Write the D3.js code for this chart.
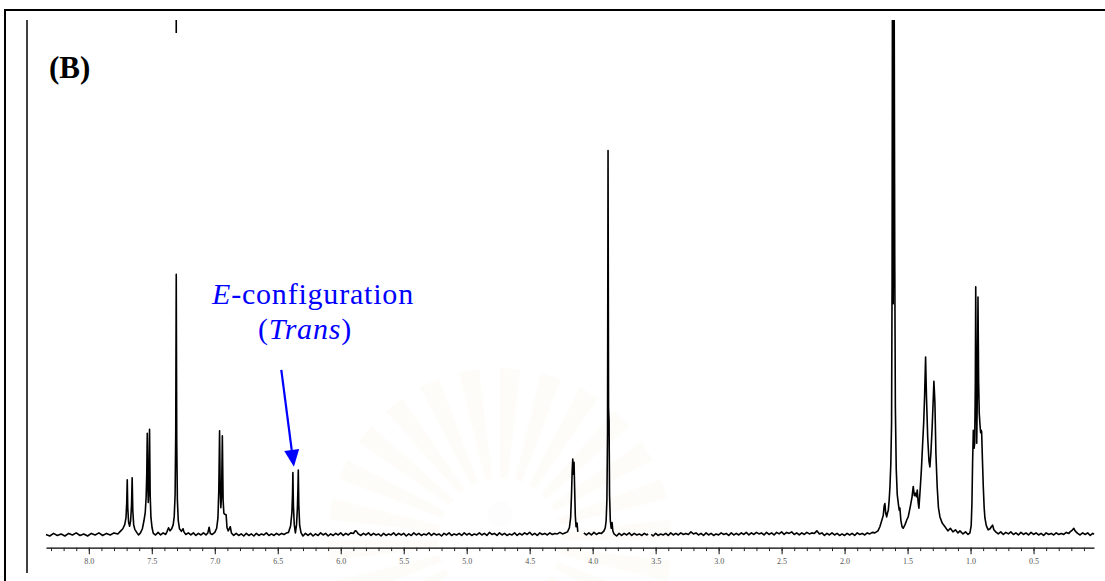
<!DOCTYPE html>
<html>
<head>
<meta charset="utf-8">
<script src="https://cdn.jsdelivr.net/npm/d3@7"></script>
<style>
  html, body { margin: 0; padding: 0; background: #fff; }
  svg { display: block; }
</style>
</head>
<body>
<svg id="chart" width="1105" height="581"></svg>
<script>
// 1H NMR trace: [chemical shift (ppm), intensity (a.u.)]; null marks a break in the recorded trace
const spectrum = [
  [8.34,0.3],[8.31,0.0],[8.28,0.5],[8.25,0.1],[8.22,0.4],[8.19,0.0],[8.16,0.5],[8.13,0.2],[8.10,0.6],[8.07,0.1],
  [8.04,0.4],[8.01,0.0],[7.98,0.5],[7.95,0.2],[7.92,0.6],[7.89,0.1],[7.86,0.5],[7.83,0.2],[7.80,0.6],[7.77,0.4],
  [7.75,0.9],[7.73,1.4],[7.715,2.2],
  [7.705,3.5],[7.699,6.5],[7.695,10.9],[7.691,5.5],[7.684,2.6],[7.676,1.9],[7.668,3.0],[7.661,6.0],[7.656,11.3],
  [7.651,5.0],[7.644,2.2],[7.635,1.3],[7.62,0.7],[7.605,0.2],[7.59,0.6],[7.575,1.4],[7.562,3.0],[7.552,4.6],
  [7.545,7.5],[7.540,12.0],[7.536,19.9],[7.532,10.0],[7.528,6.5],[7.524,9.0],[7.518,20.7],[7.513,8.0],[7.507,3.6],
  [7.498,1.6],[7.488,0.5],[7.47,0.2],[7.45,0.7],[7.43,0.2],[7.41,0.6],[7.39,0.3],[7.38,0.8],[7.367,1.6],[7.355,1.0],
  [7.342,1.4],[7.330,2.2],[7.322,3.8],[7.315,8.0],[7.310,20.0],[7.306,50.7],[7.302,18.0],[7.297,7.0],[7.290,3.0],
  [7.280,1.4],[7.265,0.9],[7.252,1.4],[7.245,0.8],[7.23,0.3],[7.21,0.6],[7.19,0.2],[7.17,0.6],[7.15,0.1],[7.13,0.5],
  [7.11,0.2],[7.09,0.6],[7.07,0.2],[7.055,0.6],[7.045,1.7],[7.036,0.5],[7.02,0.3],[7.00,0.7],[6.985,1.5],[6.975,3.5],
  [6.968,9.0],[6.962,20.4],[6.957,9.0],[6.952,5.5],[6.946,8.0],[6.940,19.4],[6.934,7.0],[6.928,4.4],[6.920,4.2],
  [6.910,4.1],[6.903,1.6],[6.893,1.0],[6.877,1.8],[6.868,0.6],[6.85,0.1],[6.83,0.5],[6.81,0.1],[6.79,0.4],[6.77,0.0],
  [6.75,0.5],[6.73,0.1],[6.71,0.4],[6.69,0.0],[6.67,0.5],[6.65,0.1],[6.63,0.4],[6.61,0.2],[6.59,0.6],[6.57,0.1],
  [6.55,0.4],[6.53,0.1],[6.51,0.5],[6.49,0.2],[6.47,0.5],[6.45,0.3],[6.43,0.6],[6.415,0.7],[6.398,2.0],[6.388,4.5],
  [6.383,8.0],[6.380,12.3],[6.376,6.0],[6.369,2.2],[6.360,0.6],[6.351,2.2],[6.344,5.5],[6.340,9.0],[6.337,12.8],
  [6.333,6.0],[6.326,2.0],[6.315,0.6],[6.30,0.0],[6.28,0.5],[6.26,0.1],[6.24,0.5],[6.22,0.0],[6.20,0.4],[6.18,0.1],
  [6.16,0.6],[6.14,0.2],[6.12,0.5],[6.10,0.0],[6.08,0.4],[6.06,0.1],[6.04,0.5],[6.02,0.2],[6.00,0.6],[5.98,0.1],
  [5.96,0.5],[5.94,0.2],[5.92,0.6],[5.90,0.5],[5.885,1.0],[5.875,0.9],[5.86,0.4],[5.84,0.1],[5.82,0.5],[5.80,0.2],
  [5.78,0.6],[5.76,0.1],[5.74,0.5],[5.72,0.2],[5.70,0.4],[5.68,0.0],[5.66,0.5],[5.64,0.1],[5.62,0.4],[5.60,0.2],
  [5.58,0.6],[5.56,0.1],[5.54,0.5],[5.52,0.2],[5.50,0.5],[5.48,0.0],[5.46,0.4],[5.44,0.1],[5.42,0.6],[5.40,0.2],
  [5.38,0.5],[5.36,0.1],[5.34,0.4],[5.32,0.2],[5.30,0.6],[5.28,0.1],[5.26,0.5],[5.24,0.2],[5.22,0.4],[5.20,0.0],
  [5.18,0.5],[5.16,0.2],[5.14,0.6],[5.12,0.1],[5.10,0.4],[5.08,0.2],[5.06,0.5],[5.04,0.1],[5.02,0.6],[5.00,0.2],
  [4.98,0.5],[4.96,0.1],[4.94,0.4],[4.92,0.2],[4.90,0.6],[4.88,0.2],[4.86,0.5],[4.84,0.1],[4.82,0.7],[4.80,0.3],
  [4.78,0.5],[4.76,0.1],[4.74,0.6],[4.72,0.2],[4.70,0.5],[4.68,0.1],[4.66,0.4],[4.64,0.2],[4.62,0.6],[4.60,0.1],
  [4.58,0.5],[4.56,0.2],[4.54,0.6],[4.52,0.3],[4.50,0.7],[4.48,0.2],[4.46,0.5],[4.44,0.1],[4.42,0.6],[4.40,0.3],
  [4.38,0.5],[4.36,0.2],[4.34,0.6],[4.32,0.3],[4.30,0.5],[4.28,0.4],[4.26,0.7],[4.24,0.4],[4.22,0.6],[4.20,0.8],
  [4.185,1.6],[4.175,3.5],[4.168,8.0],[4.163,12.5],[4.158,14.9],[4.153,12.0],[4.148,14.3],[4.143,9.0],[4.138,4.0],
  [4.132,1.8],[4.124,2.5],[4.118,0.8],[4.11,null],[4.07,0.6],[4.05,0.2],[4.03,0.6],[4.01,0.2],[3.99,0.7],[3.97,0.3],
  [3.95,0.6],[3.93,0.5],[3.910,1.0],[3.900,1.6],[3.893,3.0],[3.887,7.0],[3.882,20.0],[3.878,74.7],[3.874,25.0],
  [3.870,22.3],[3.866,8.0],[3.860,3.0],[3.853,1.5],[3.846,2.6],[3.840,1.0],[3.83,0.4],[3.81,0.0],[3.79,0.5],[3.77,0.1],
  [3.75,0.5],[3.73,0.2],[3.71,0.6],[3.69,0.1],[3.67,0.5],[3.65,0.2],[3.63,0.4],[3.61,0.1],[3.59,0.5],[3.57,0.2],
  [3.56,0.4],[3.55,null],[3.535,0.3],[3.52,0.0],[3.50,0.5],[3.48,0.1],[3.46,0.4],[3.44,0.2],[3.42,0.5],[3.40,0.1],
  [3.38,0.6],[3.36,0.2],[3.34,0.5],[3.32,0.2],[3.30,0.6],[3.28,0.3],[3.26,0.5],[3.24,0.3],[3.22,0.8],[3.20,0.4],
  [3.18,0.6],[3.16,0.2],[3.14,0.5],[3.12,0.1],[3.10,0.6],[3.08,0.2],[3.06,0.5],[3.04,0.1],[3.02,0.4],[3.00,0.2],
  [2.98,0.6],[2.96,0.3],[2.94,0.5],[2.92,0.1],[2.90,0.6],[2.88,0.2],[2.86,0.5],[2.84,0.2],[2.82,0.6],[2.80,0.3],
  [2.78,0.7],[2.76,0.2],[2.74,0.6],[2.72,0.3],[2.70,0.7],[2.68,0.4],[2.66,0.6],[2.64,0.2],[2.62,0.7],[2.60,0.3],
  [2.58,0.6],[2.56,0.2],[2.54,0.7],[2.52,0.4],[2.50,0.8],[2.48,0.3],[2.46,0.7],[2.44,0.5],[2.42,0.8],[2.40,0.3],
  [2.38,0.6],[2.36,0.2],[2.34,0.6],[2.32,0.3],[2.30,0.7],[2.28,0.4],[2.26,0.6],[2.24,0.5],[2.22,1.0],[2.20,0.4],
  [2.18,0.6],[2.16,0.1],[2.14,0.5],[2.12,0.2],[2.10,0.6],[2.08,0.2],[2.06,0.5],[2.04,0.1],[2.02,0.4],[2.00,0.1],
  [1.98,0.5],[1.96,0.2],[1.94,0.5],[1.92,0.1],[1.90,0.6],[1.88,0.3],[1.86,0.5],[1.84,0.2],[1.82,0.6],[1.80,0.4],
  [1.78,0.7],[1.76,0.6],[1.735,1.0],[1.720,1.8],[1.705,3.0],[1.693,4.0],[1.686,5.8],[1.680,6.3],[1.674,4.5],
  [1.666,3.7],[1.659,4.5],[1.653,5.0],[1.646,7.0],[1.640,9.5],[1.633,14.0],[1.627,22.0],[1.623,50.0],[1.620,110],
  [1.614,45.0],[1.607,110],[1.602,55.0],[1.597,25.0],[1.590,13.0],[1.582,8.0],[1.572,6.0],[1.566,5.0],[1.561,5.4],
  [1.553,3.0],[1.544,1.8],[1.535,1.5],[1.520,2.2],[1.505,3.2],[1.495,3.7],[1.480,5.5],[1.465,7.5],[1.455,9.6],
  [1.446,7.8],[1.436,8.3],[1.430,7.6],[1.423,8.9],[1.416,6.5],[1.410,5.4],[1.400,9.0],[1.390,13.0],[1.381,17.6],
  [1.372,22.0],[1.365,27.0],[1.357,34.7],[1.350,27.0],[1.340,19.0],[1.330,14.5],[1.323,13.4],[1.315,16.0],
  [1.305,21.0],[1.297,26.0],[1.291,30.0],[1.287,28.0],[1.283,25.8],[1.275,16.0],[1.265,9.6],[1.255,5.5],
  [1.243,3.7],[1.225,2.5],[1.203,1.8],[1.18,1.0],[1.16,1.5],[1.14,0.8],[1.12,1.2],[1.10,0.6],[1.084,1.0],[1.06,0.4],
  [1.04,0.8],[1.02,0.3],[1.005,0.6],[0.995,2.0],
  [0.989,6.4],[0.984,14.0],[0.978,20.5],[0.972,17.0],[0.967,18.0],[0.962,30.0],[0.959,48.3],[0.955,30.0],
  [0.951,18.0],[0.946,28.0],[0.941,46.3],[0.936,30.0],[0.931,23.8],[0.925,21.5],[0.920,20.0],[0.916,20.5],
  [0.912,20.2],[0.906,15.0],[0.899,9.6],[0.892,5.5],[0.886,3.5],[0.875,2.0],[0.860,1.2],[0.845,1.4],[0.835,1.8],
  [0.825,2.1],[0.815,1.2],[0.80,0.8],[0.78,0.4],[0.76,0.8],[0.74,0.3],[0.72,0.7],[0.70,0.4],[0.68,0.8],[0.66,0.3],
  [0.64,0.6],[0.62,0.2],[0.60,0.7],[0.58,0.3],[0.56,0.6],[0.54,0.2],[0.52,0.7],[0.50,0.3],[0.48,0.6],[0.46,0.2],
  [0.44,0.5],[0.42,0.1],[0.40,0.6],[0.38,0.3],[0.36,0.5],[0.34,0.2],[0.32,0.6],[0.30,0.3],[0.28,0.5],[0.26,0.3],
  [0.24,0.7],[0.22,0.5],[0.21,0.8],[0.19,1.2],[0.18,1.5],[0.17,1.0],[0.15,0.5],[0.13,0.2],[0.11,0.6],[0.09,0.3],
  [0.07,0.6],[0.05,0.1],[0.03,0.5],[0.02,0.3]
];

// Axis ticks (ppm)
const majorTicks = [8.0, 7.5, 7.0, 6.5, 6.0, 5.5, 5.0, 4.5, 4.0, 3.5, 3.0, 2.5, 2.0, 1.5, 1.0, 0.5];
const minorTicks = d3.range(83, 0, -1).map(i => i / 10);
const ppmDomain = [8.34, 0.02];

// Solvent reference marker (CDCl3)
const solventPpm = 7.306;

// Panel label and two-line annotation (each line split into plain / italic runs)
const panelLabel = "(B)";
const annotationLines = [
  [{ t: "E", italic: true }, { t: "-configuration", italic: false }],
  [{ t: "(", italic: false }, { t: "Trans", italic: true }, { t: ")", italic: false }]
];
// Arrow from the annotation down to the olefinic doublet: [ppm, intensity]
const arrowStart = [6.472, 32.2];
const arrowEnd = [6.372, 13.4];

const svg = d3.select("#chart");

const x = d3.scaleLinear().domain(ppmDomain).range([46, 1094]);
const y = d3.scaleLinear().domain([0, 100]).range([536, 20]);

// Very faint background emblem
const emblem = svg.append("g").attr("transform", "translate(500,540)");
const rayArc = d3.arc().innerRadius(62).outerRadius(172);
const nRays = 26;
for (let i = 0; i < nRays; i++) {
  const a0 = (i / nRays) * 2 * Math.PI;
  emblem.append("path")
    .attr("d", rayArc({ startAngle: a0, endAngle: a0 + Math.PI / nRays }))
    .attr("fill", "#f2ead0")
    .attr("opacity", 0.13);
}
emblem.append("circle").attr("cx", 0).attr("cy", -26).attr("r", 13)
  .attr("fill", "#f3f3f3").attr("opacity", 0.2);

// Frame
svg.append("rect")
  .attr("x", 5).attr("y", 10).attr("width", 1120).attr("height", 620)
  .attr("fill", "none").attr("stroke", "#000").attr("stroke-width", 2);
svg.append("line")
  .attr("x1", 27).attr("x2", 27).attr("y1", 20).attr("y2", 573)
  .attr("stroke", "#111").attr("stroke-width", 1.6);

// Spectrum, clipped at the top of the plotting area
svg.append("defs").append("clipPath").attr("id", "plotClip")
  .append("rect").attr("x", 30).attr("y", 20).attr("width", 1070).attr("height", 540);

const line = d3.line()
  .defined(d => d[1] !== null)
  .x(d => x(d[0]))
  .y(d => y(d[1]));

svg.append("path")
  .datum(spectrum)
  .attr("clip-path", "url(#plotClip)")
  .attr("d", line)
  .attr("fill", "none")
  .attr("stroke", "#000")
  .attr("stroke-width", 1.6)
  .attr("stroke-linejoin", "round");

// Solvent marker at the top
svg.append("line")
  .attr("x1", x(solventPpm)).attr("x2", x(solventPpm))
  .attr("y1", 20).attr("y2", 33)
  .attr("stroke", "#000").attr("stroke-width", 1.6);

// ppm axis
const axisY = 547.7;
const minorAxis = d3.axisBottom(x).tickValues(minorTicks).tickSize(3.4).tickSizeOuter(0).tickFormat("");
const majorAxis = d3.axisBottom(x).tickValues(majorTicks).tickSize(6.5).tickSizeOuter(0)
  .tickPadding(4.5).tickFormat(d3.format(".1f"));

const gMinor = svg.append("g").attr("transform", `translate(0,${axisY})`).call(minorAxis);
gMinor.select(".domain").attr("stroke", "#000").attr("stroke-width", 1.2);
gMinor.selectAll(".tick line").attr("stroke", "#222").attr("stroke-width", 1);

const gMajor = svg.append("g").attr("transform", `translate(0,${axisY})`).call(majorAxis);
gMajor.select(".domain").remove();
gMajor.selectAll(".tick line").attr("stroke", "#222").attr("stroke-width", 1.1);
gMajor.selectAll(".tick text")
  .attr("font-family", "'Liberation Serif', 'DejaVu Serif', serif")
  .attr("font-size", 8)
  .attr("fill", "#555");

// Panel label
svg.append("text")
  .attr("x", 49).attr("y", 77.5)
  .attr("font-family", "'Liberation Serif', serif")
  .attr("font-weight", "bold")
  .attr("font-size", 31)
  .attr("fill", "#000")
  .text(panelLabel);

// Annotation lines
const linePos = [[212, 304], [258, 339]];
annotationLines.forEach((parts, li) => {
  const t = svg.append("text")
    .attr("x", linePos[li][0]).attr("y", linePos[li][1])
    .attr("font-family", "'Liberation Serif', serif")
    .attr("font-size", 30)
    .attr("letter-spacing", 0.8)
    .attr("fill", "#0000ff");
  parts.forEach(p => {
    t.append("tspan").attr("font-style", p.italic ? "italic" : "normal").text(p.t);
  });
});

// Arrow
const x0 = x(arrowStart[0]), y0 = y(arrowStart[1]);
const x1 = x(arrowEnd[0]), y1 = y(arrowEnd[1]);
const ang = Math.atan2(y1 - y0, x1 - x0);
const headLen = 17, headHalf = 7.5;
const bx = x1 - headLen * Math.cos(ang), by = y1 - headLen * Math.sin(ang);
svg.append("line")
  .attr("x1", x0).attr("y1", y0).attr("x2", bx).attr("y2", by)
  .attr("stroke", "#0000ff").attr("stroke-width", 2.2);
svg.append("path")
  .attr("d", d3.line()([
    [x1, y1],
    [bx + headHalf * Math.sin(ang), by - headHalf * Math.cos(ang)],
    [bx - headHalf * Math.sin(ang), by + headHalf * Math.cos(ang)]
  ]) + "Z")
  .attr("fill", "#0000ff");
</script>
</body>
</html>
